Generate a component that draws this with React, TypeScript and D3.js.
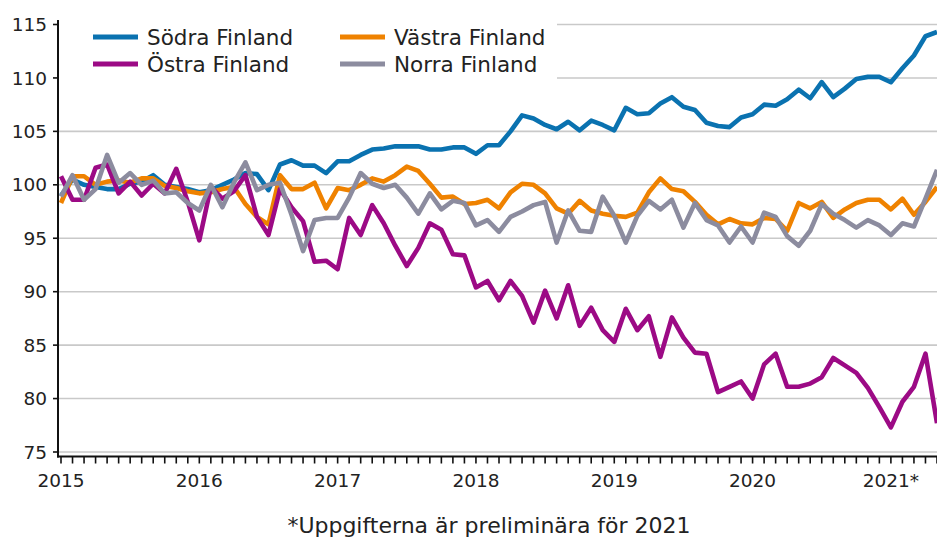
import * as d3 from "d3";

// Monthly index values, Jan 2015 – May 2021
const sodra = [
  99.0, 100.5, 100.0, 99.8, 99.6, 99.6, 100.1, 100.3, 100.9, 100.0, 99.8, 99.6,
  99.3, 99.5, 100.0, 100.5, 101.1, 101.0, 99.5, 101.9, 102.3, 101.8, 101.8, 101.1,
  102.2, 102.2, 102.8, 103.3, 103.4, 103.6, 103.6, 103.6, 103.3, 103.3, 103.5, 103.5,
  102.9, 103.7, 103.7, 105.0, 106.5, 106.2, 105.6, 105.2, 105.9, 105.1, 106.0, 105.6,
  105.1, 107.2, 106.6, 106.7, 107.6, 108.2, 107.3, 107.0, 105.8, 105.5, 105.4, 106.3,
  106.6, 107.5, 107.4, 108.0, 108.9, 108.1, 109.6, 108.2, 109.0, 109.9, 110.1, 110.1,
  109.6, 110.9, 112.1, 113.9, 114.3,
];
const vastra = [
  98.3, 100.8, 100.8, 100.0, 100.3, 100.4, 100.2, 100.6, 100.6, 99.9, 99.7, 99.4,
  99.2, 99.3, 99.6, 99.8, 98.2, 97.0, 96.3, 100.9, 99.6, 99.6, 100.2, 97.8,
  99.7, 99.5, 100.0, 100.6, 100.3, 100.9, 101.7, 101.3, 100.1, 98.8, 98.9, 98.2,
  98.3, 98.6, 97.8, 99.3, 100.1, 100.0, 99.2, 97.8, 97.3, 98.5, 97.6, 97.3,
  97.1, 97.0, 97.4, 99.3, 100.6, 99.6, 99.4, 98.4, 97.2, 96.3, 96.8, 96.4,
  96.3, 96.9, 96.8, 95.7, 98.3, 97.8, 98.4, 96.9, 97.7, 98.3, 98.6, 98.6,
  97.7, 98.7, 97.2, 98.4, 99.8,
];
const ostra = [
  100.8, 98.6, 98.6, 101.6, 101.9, 99.2, 100.3, 99.0, 100.1, 99.2, 101.5, 98.4,
  94.8, 99.8, 98.7, 99.4, 100.9, 97.0, 95.3, 99.6, 97.9, 96.6, 92.8, 92.9,
  92.1, 96.9, 95.3, 98.1, 96.4, 94.3, 92.4, 94.1, 96.4, 95.8, 93.5, 93.4,
  90.4, 91.0, 89.2, 91.0, 89.6, 87.1, 90.1, 87.5, 90.6, 86.8, 88.5, 86.4,
  85.3, 88.4, 86.4, 87.7, 83.9, 87.6, 85.7, 84.3, 84.2, 80.6, 81.1, 81.6,
  80.0, 83.2, 84.2, 81.1, 81.1, 81.4, 82.0, 83.8, 83.1, 82.4, 81.0, 79.2,
  77.3, 79.7, 81.1, 84.2, 77.7,
];
const norra = [
  98.9, 100.9, 98.6, 99.6, 102.8, 100.2, 101.1, 100.0, 100.4, 99.2, 99.3, 98.3,
  97.6, 100.0, 97.9, 100.2, 102.1, 99.5, 100.0, 100.2, 97.2, 93.8, 96.7, 96.9,
  96.9, 98.8, 101.1, 100.1, 99.7, 100.0, 98.8, 97.3, 99.2, 97.7, 98.5, 98.3,
  96.2, 96.7, 95.6, 97.0, 97.5, 98.1, 98.4, 94.6, 97.6, 95.7, 95.6, 98.9,
  97.1, 94.6, 97.1, 98.5, 97.7, 98.6, 96.0, 98.3, 96.7, 96.2, 94.6, 96.1,
  94.6, 97.4, 97.0, 95.2, 94.3, 95.7, 98.2, 97.3, 96.7, 96.0, 96.7, 96.2,
  95.3, 96.4, 96.1, 98.7, 101.4,
];

const yearLabels = ["2015", "2016", "2017", "2018", "2019", "2020", "2021*"];
const yTicks = [75, 80, 85, 90, 95, 100, 105, 110, 115];
const footnote = "*Uppgifterna är preliminära för 2021";

const series = [
  { name: "Södra Finland", values: sodra, color: "#0a72b0" },
  { name: "Västra Finland", values: vastra, color: "#ef8200" },
  { name: "Östra Finland", values: ostra, color: "#9c0a85" },
  { name: "Norra Finland", values: norra, color: "#8c8c9f" },
];

const W = 937;
const H = 539;
const FONT = "'DejaVu Sans', Verdana, sans-serif";

export default function App() {
  const n = sodra.length;
  const x = d3.scaleLinear().domain([0, n - 1]).range([61, 937]);
  const y = d3.scaleLinear().domain([75, 115]).range([452, 24.5]);
  const axisX = 58;
  const axisY = 456.5;

  const line = d3
    .line<number>()
    .x((_, i) => x(i))
    .y((d) => y(d))
    .curve(d3.curveLinear);

  const months = d3.range(n);

  // legend: two columns, two rows
  const legendItems = [
    { s: series[0], lx: 93, ly: 37 },
    { s: series[2], lx: 93, ly: 64 },
    { s: series[1], lx: 340, ly: 37 },
    { s: series[3], lx: 340, ly: 64 },
  ];

  return (
    <svg
      width={W}
      height={H}
      style={{ position: "absolute", left: 0, top: 0, background: "#fff" }}
      fontFamily={FONT}
    >
      {/* grid */}
      {yTicks.map((t) => (
        <line
          key={t}
          x1={axisX}
          x2={W}
          y1={y(t)}
          y2={y(t)}
          stroke="#c9c9c9"
          strokeWidth={1.6}
        />
      ))}

      {/* legend background covers grid */}
      <rect x={axisX + 1} y={8} width={498} height={88} fill="#fff" />

      {/* series */}
      {series.map((s) => (
        <path
          key={s.name}
          d={line(s.values) ?? ""}
          fill="none"
          stroke={s.color}
          strokeWidth={4.6}
          strokeLinejoin="round"
          strokeLinecap="butt"
        />
      ))}

      {/* legend */}
      {legendItems.map(({ s, lx, ly }) => (
        <g key={s.name}>
          <line x1={lx} x2={lx + 45} y1={ly} y2={ly} stroke={s.color} strokeWidth={5} />
          <text x={lx + 54} y={ly} dy="0.36em" fontSize={21.5} fill="#222">
            {s.name}
          </text>
        </g>
      ))}

      {/* y axis */}
      <line x1={axisX} x2={axisX} y1={20} y2={axisY + 1} stroke="#111" strokeWidth={2} />
      {yTicks.map((t) => (
        <g key={t}>
          <line x1={axisX - 5} x2={axisX} y1={y(t)} y2={y(t)} stroke="#111" strokeWidth={1.6} />
          <text
            x={47}
            y={y(t)}
            dy="0.36em"
            textAnchor="end"
            fontSize={18.5}
            fill="#222"
          >
            {t}
          </text>
        </g>
      ))}

      {/* x axis */}
      <line x1={axisX - 1} x2={W} y1={axisY} y2={axisY} stroke="#111" strokeWidth={2} />
      {months.map((i) => (
        <line
          key={i}
          x1={x(i)}
          x2={x(i)}
          y1={axisY}
          y2={axisY + 7}
          stroke="#111"
          strokeWidth={1.6}
        />
      ))}
      {yearLabels.map((lab, k) => (
        <text
          key={lab}
          x={x(k * 12)}
          y={487}
          textAnchor="middle"
          fontSize={18.5}
          fill="#222"
        >
          {lab}
        </text>
      ))}

      {/* footnote */}
      <text x={489} y={533} textAnchor="middle" fontSize={22} fill="#222">
        {footnote}
      </text>
    </svg>
  );
}
